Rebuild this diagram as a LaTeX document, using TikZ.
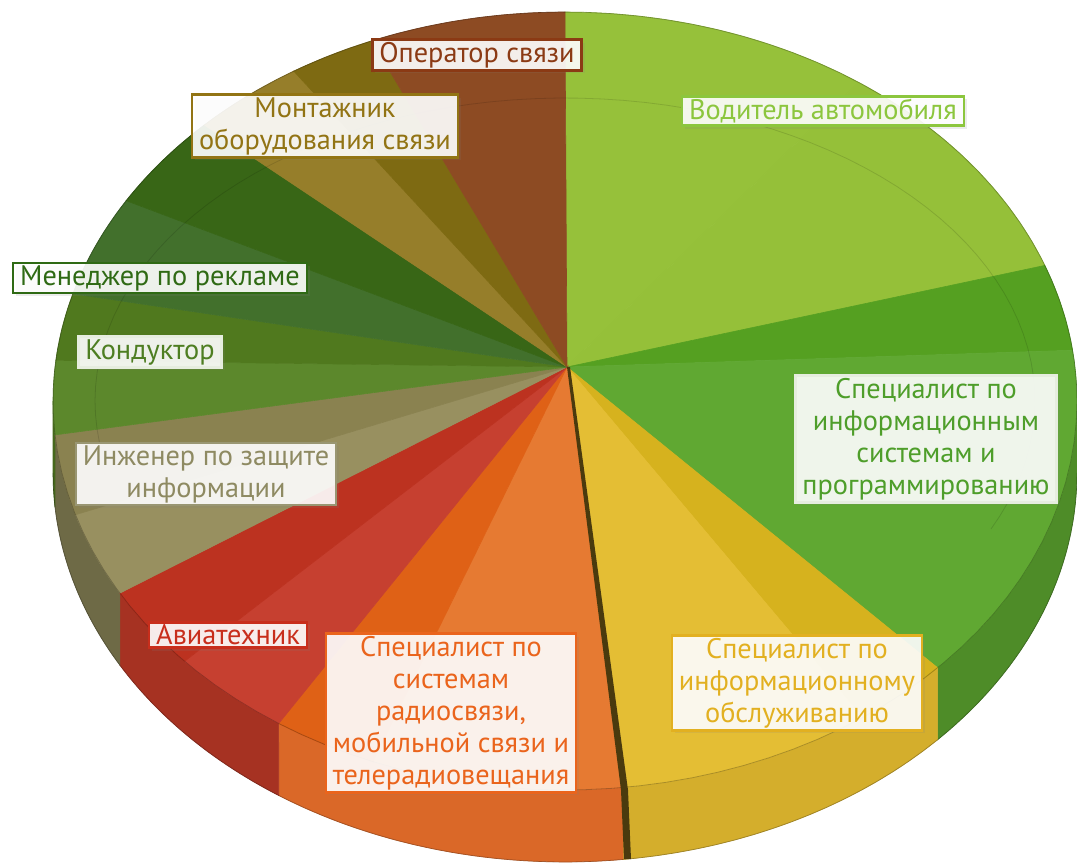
\documentclass[tikz,border=0pt]{standalone}
\usepackage{fontspec}
\setmainfont{PT Sans}
\usetikzlibrary{calc,shadows}
% slice colours (two facets per slice)
\definecolor{drvA}{HTML}{96C13A}
\definecolor{drvB}{HTML}{95C039}
\definecolor{isA}{HTML}{55A021}
\definecolor{isB}{HTML}{60A832}
\definecolor{isW}{HTML}{4E8C28}
\definecolor{svcA}{HTML}{D6B21E}
\definecolor{svcB}{HTML}{E4BE34}
\definecolor{svcW}{HTML}{D4AE2C}
\definecolor{radA}{HTML}{E67A32}
\definecolor{radB}{HTML}{DF6116}
\definecolor{radW}{HTML}{DA6828}
\definecolor{avA}{HTML}{C64030}
\definecolor{avB}{HTML}{BC3220}
\definecolor{avW}{HTML}{A63222}
\definecolor{engA}{HTML}{989060}
\definecolor{engB}{HTML}{8A8250}
\definecolor{engW}{HTML}{6E6A46}
\definecolor{condA}{HTML}{5C882C}
\definecolor{condB}{HTML}{50791E}
\definecolor{condW}{HTML}{46681C}
\definecolor{mgrA}{HTML}{42702C}
\definecolor{mgrB}{HTML}{386616}
\definecolor{monA}{HTML}{967E2A}
\definecolor{monB}{HTML}{7E6A12}
\definecolor{opA}{HTML}{8D4B23}
\definecolor{gapC}{HTML}{4A3A0E}
% label colours
\definecolor{opT}{HTML}{8B3A14}
\definecolor{monT}{HTML}{927414}
\definecolor{drvT}{HTML}{8CC63E}
\definecolor{mgrT}{HTML}{2F6A14}
\definecolor{condT}{HTML}{4E7E22}
\definecolor{engT}{HTML}{8E8A62}
\definecolor{avT}{HTML}{C82E1C}
\definecolor{radT}{HTML}{EA641C}
\definecolor{svcT}{HTML}{E2B020}
\definecolor{isT}{HTML}{4E9E2A}
\definecolor{paleG}{HTML}{E6EDDF}
\tikzset{
    lbl/.style={draw=#1, text=#1, fill=white, fill opacity=0.9, text opacity=1,
        line width=2.5pt, inner xsep=7pt, inner ysep=2.5pt, align=center,
        font=\fontsize{28.3}{32}\selectfont,
        drop shadow={opacity=0.15, shadow xshift=3pt, shadow yshift=-3pt}},
    seam/.style={draw=#1, line width=0.6pt}
}

\begin{document}
\begin{tikzpicture}[x=1pt,y=-1pt]
    \useasboundingbox (0,0) rectangle (1077,867);
    \coordinate (apex) at (567,367);

    % side walls
    \foreach \a/\b/\c in {0/43.3/isW, 43.3/83.5/svcW, 83.5/124/radW,
                          124/150.4/avW, 150.4/175/engW, 175/180/condW}
        \filldraw[fill=\c, seam=\c]
            plot[domain=\a:\b, samples=30] ({565+512*cos(\x)},{401+389*sin(\x)})
            -- plot[domain=\b:\a, samples=30] ({565+512*cos(\x)},{473+389*sin(\x)})
            -- cycle;

    % top faces
    \foreach \a/\b/\c in {270/305/drvA, 305/339.6/drvB,
                          339.6/352.5/isA, 352.5/403.3/isB,
                          43.3/54.5/svcA, 54.5/83.5/svcB,
                          83.5/112/radA, 112/124/radB,
                          124/138/avA, 138/150.4/avB,
                          150.4/163/engA, 163/175/engB,
                          175/186/condA, 186/196/condB,
                          196/211/mgrA, 211/225.2/mgrB,
                          225.2/238/monA, 238/247.8/monB,
                          247.8/270/opA}
        \filldraw[fill=\c, seam=\c] (apex)
            -- plot[domain=\a:\b, samples=30] ({565+512*cos(\x)},{401+389*sin(\x)})
            -- cycle;

    % bevel line and rim
    \draw[black, opacity=0.12, line width=0.8pt]
        plot[domain=172:385, samples=80] ({565+470*cos(\x)},{401+303*sin(\x)});
    \draw[black, opacity=0.25, line width=0.8pt]
        plot[domain=0:360, samples=120] ({565+512*cos(\x)},{401+389*sin(\x)});
    \draw[black, opacity=0.25, line width=0.8pt]
        plot[domain=0:180, samples=80] ({565+512*cos(\x)},{473+389*sin(\x)});

    % gap of the pulled-out slice
    \fill[gapC] (apex) -- (621,790) -- (624,859) -- (631,859) -- (628,790) -- (570,367) -- cycle;

    % labels
    \node[lbl=opT] (oper) at (477,55) {Оператор связи};
    \node[lbl=monT] (mont) at (325,126) {Монтажник\\оборудования связи};
    \node[lbl=drvT] (driver) at (823,111) {Водитель автомобиля};
    \node[lbl=mgrT] (manager) at (160,278) {Менеджер по рекламе};
    \node[lbl=condT, draw=paleG] (cond) at (150,352) {Кондуктор};
    \node[lbl=engT, draw=engT!90] (eng) at (206,474) {Инженер по защите\\информации};
    \node[lbl=avT] (avia) at (228,635) {Авиатехник};
    \node[lbl=radT] (radio) at (451,713)
        {Специалист по\\системам\\радиосвязи,\\мобильной связи и\\телерадиовещания};
    \node[lbl=svcT] (service) at (797,683)
        {Специалист по\\информационному\\обслуживанию};
    \node[lbl=isT, draw=paleG] (infsys) at (926,439)
        {Специалист по\\информационным\\системам и\\программированию};
\end{tikzpicture}
\end{document}
